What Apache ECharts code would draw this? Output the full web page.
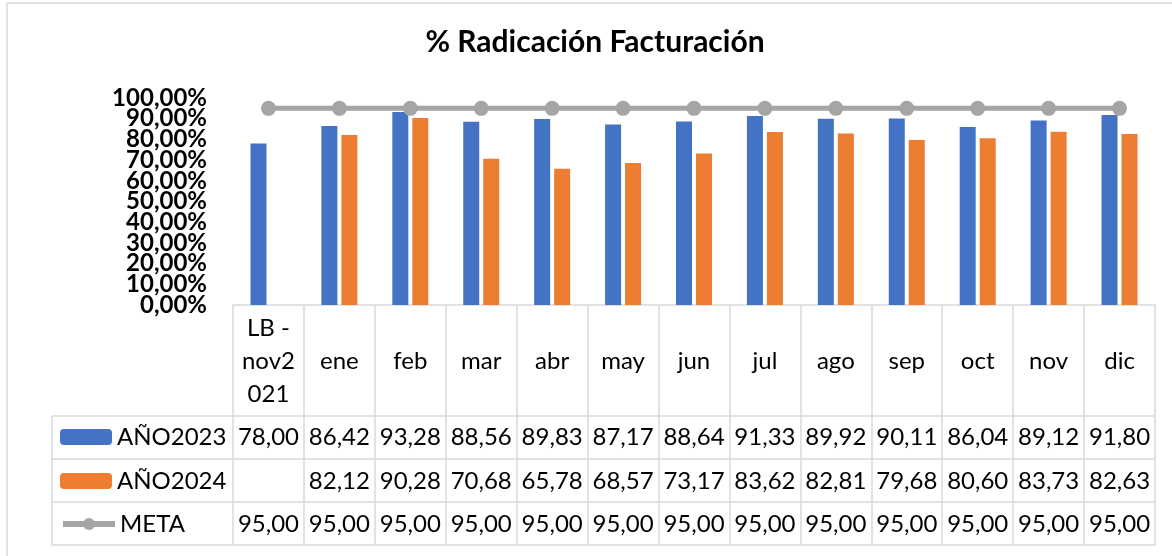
<!DOCTYPE html>
<html><head><meta charset="utf-8">
<script src="https://cdn.jsdelivr.net/npm/echarts@6/dist/echarts.min.js"></script>
<style>html,body{margin:0;padding:0;background:#fff}#c{width:1172px;height:556px}</style>
</head><body><div id="c"></div>
<script>
const categories = ['LB - nov2021','ene','feb','mar','abr','may','jun','jul','ago','sep','oct','nov','dic'];
const categoryLabels = ['LB -\nnov2\n021','ene','feb','mar','abr','may','jun','jul','ago','sep','oct','nov','dic'];
const anio2023 = [78.00,86.42,93.28,88.56,89.83,87.17,88.64,91.33,89.92,90.11,86.04,89.12,91.80];
const anio2024 = [null,82.12,90.28,70.68,65.78,68.57,73.17,83.62,82.81,79.68,80.60,83.73,82.63];
const meta = [95.00,95.00,95.00,95.00,95.00,95.00,95.00,95.00,95.00,95.00,95.00,95.00,95.00];
const seriesNames = ['AÑO2023','AÑO2024','META'];
const titleText = '% Radicación Facturación';

const FONT = 'Lato, "Open Sans", sans-serif';
const BORDER = '#d9d9d9';
const fmt = v => (v === null || v === undefined) ? '' : v.toFixed(2).replace('.', ',');
const pct = v => v.toFixed(2).replace('.', ',') + '%';

function rowAxis(arr, margin) {
  return {
    type: 'category', data: categories, gridIndex: 0, position: 'bottom', offset: 0,
    axisLine: {show: false}, axisTick: {show: false}, splitLine: {show: false},
    axisLabel: {interval: 0, hideOverlap: false, margin: margin, verticalAlign: 'middle',
      fontFamily: FONT, fontSize: 24, color: '#000',
      formatter: (v, i) => fmt(arr[i])}
  };
}
function legendRow(name, centerY, extra) {
  return Object.assign({
    data: [name], left: 60, top: centerY - 13, orient: 'horizontal', padding: 0,
    itemWidth: 52, itemHeight: 16, itemGap: 0, selectedMode: false,
    textStyle: {fontFamily: FONT, fontSize: 24, color: '#000', lineHeight: 26}
  }, extra || {});
}
// two overlaid value axes (even / odd ticks) so tightly packed labels are all kept
function valueAxis(parity, showEnds) {
  return {type: 'value', min: 0, max: 100, interval: 10, position: 'left', offset: 0,
    axisLine: {show: false}, axisTick: {show: false}, splitLine: {show: false},
    axisLabel: {margin: 26, hideOverlap: false, showMinLabel: showEnds, showMaxLabel: showEnds,
      fontFamily: FONT, fontSize: 24, lineHeight: 20, fontWeight: 'bold', color: '#000',
      formatter: v => (Math.round(v / 10) % 2 === parity) ? pct(v) : ''}};
}

const chart = echarts.init(document.getElementById('c'), null, {renderer: 'canvas'});
chart.setOption({
  animation: false,
  backgroundColor: '#fff',
  title: {text: titleText, left: 595, top: 27, textAlign: 'center', padding: 0,
    textStyle: {fontFamily: FONT, fontSize: 30, fontWeight: 'bold', color: '#000'}},
  grid: {left: 233, right: 17, top: 98, bottom: 251, containLabel: false, outerBoundsMode: 'none'},
  legend: [legendRow(seriesNames[0], 437), legendRow(seriesNames[1], 481),
           legendRow(seriesNames[2], 524, {itemHeight: 15, lineStyle: {width: 6}})],
  xAxis: [
    {type: 'category', data: categories, position: 'bottom',
      axisLine: {show: true, lineStyle: {color: BORDER, width: 1.5}},
      axisTick: {show: true, interval: 0, length: 240, alignWithLabel: false, lineStyle: {color: BORDER, width: 1.5}},
      splitLine: {show: false},
      axisLabel: {interval: 0, hideOverlap: false, margin: 56, verticalAlign: 'middle', align: 'center',
        fontFamily: FONT, fontSize: 24, lineHeight: 33, color: '#000',
        formatter: (v, i) => categoryLabels[i]}},
    rowAxis(anio2023, 132),
    rowAxis(anio2024, 176),
    rowAxis(meta, 219)
  ],
  yAxis: [valueAxis(0, true), valueAxis(1, false)],
  series: [
    {name: seriesNames[0], type: 'bar', data: anio2023, barWidth: 16, barGap: '25%',
      itemStyle: {color: '#4472C4'}},
    {name: seriesNames[1], type: 'bar', data: anio2024, barWidth: 16, barGap: '25%',
      itemStyle: {color: '#ED7D31'}},
    {name: seriesNames[2], type: 'line', data: meta, symbol: 'circle', symbolSize: 15, z: 5,
      lineStyle: {color: '#A5A5A5', width: 5}, itemStyle: {color: '#A5A5A5'}}
  ],
  graphic: [
    {type: 'rect', shape: {x: 7, y: 3, width: 1300, height: 700}, silent: true, z: -10,
      style: {fill: 'none', stroke: BORDER, lineWidth: 1.5}},
    {type: 'line', shape: {x1: 52, y1: 416, x2: 1155, y2: 416}, silent: true, style: {stroke: BORDER, lineWidth: 1.5}},
    {type: 'line', shape: {x1: 52, y1: 459, x2: 1155, y2: 459}, silent: true, style: {stroke: BORDER, lineWidth: 1.5}},
    {type: 'line', shape: {x1: 52, y1: 502, x2: 1155, y2: 502}, silent: true, style: {stroke: BORDER, lineWidth: 1.5}},
    {type: 'line', shape: {x1: 52, y1: 545, x2: 1155, y2: 545}, silent: true, style: {stroke: BORDER, lineWidth: 1.5}},
    {type: 'line', shape: {x1: 52, y1: 416, x2: 52, y2: 545}, silent: true, style: {stroke: BORDER, lineWidth: 1.5}}
  ]
});
</script>
</body></html>
